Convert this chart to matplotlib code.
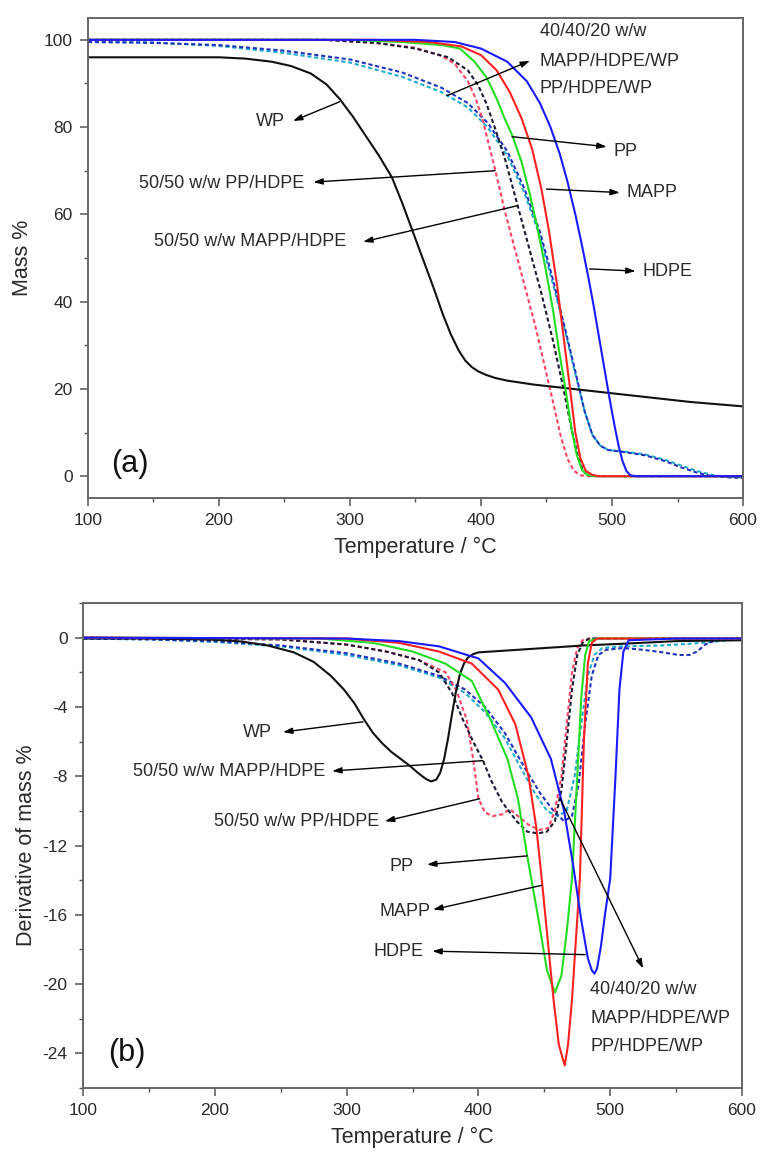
import matplotlib.pyplot as plt
from matplotlib.ticker import MultipleLocator

plt.rcParams['font.family'] = ['Liberation Sans', 'DejaVu Sans']
plt.rcParams['axes.unicode_minus'] = False

# ---------------- (a) mass loss curves ----------------
wp_tg_T = [100, 200, 220, 240, 255, 270, 282, 292, 302, 312, 322, 332, 340, 348, 356, 364, 371, 377, 383, 388, 393, 398, 404, 411, 420, 440, 470, 500, 530, 560, 600]
wp_tg = [96, 96, 95.7, 95, 94, 92.3, 89.8, 86.5, 82.5, 78, 73.5, 68.5, 62.5, 56, 49.5, 43, 37, 32.5, 28.8, 26.5, 25, 24, 23.2, 22.5, 21.9, 21, 20, 19, 18, 17, 16]

hdpe_tg_T = [100, 350, 380, 400, 420, 435, 445, 453, 460, 466, 472, 477, 482, 486, 490, 494, 498, 502, 505, 508, 511, 514, 518, 600]
hdpe_tg = [100, 100, 99.5, 98, 95, 90.5, 85.5, 80, 74, 67.5, 60, 53, 45.5, 39, 32, 25, 18, 11.5, 7, 3.5, 1.2, 0.2, 0, 0]

mapp_tg_T = [100, 320, 360, 385, 400, 412, 422, 431, 439, 446, 452, 458, 463, 468, 472, 476, 480, 485, 490, 600]
mapp_tg = [100, 100, 99.5, 98.5, 96.5, 93, 88, 82, 75, 66, 56, 44, 32, 20, 10, 4, 1.2, 0.3, 0, 0]

pp_tg_T = [100, 300, 340, 370, 384, 395, 404, 412, 418, 424, 431, 437, 443, 449, 455, 460, 465, 469, 473, 477, 481, 486, 600]
pp_tg = [100, 100, 99.5, 98.8, 98, 95, 91.5, 86.5, 82, 78, 72, 65, 57, 48, 38, 28, 19, 11, 5, 1.5, 0.3, 0, 0]

pphdpe_tg_T = [100, 280, 320, 350, 370, 380, 390, 396, 401, 406, 411, 418, 425, 433, 441, 448, 455, 461, 466, 471, 476, 482, 600]
pphdpe_tg = [100, 100, 99.3, 98.2, 96.3, 94.5, 90.5, 86.5, 82, 76, 70, 61, 53, 44, 35, 26, 17, 9, 4, 1.2, 0.2, 0, 0]

mappdpe_tg_T = [100, 280, 320, 350, 375, 390, 398, 404, 411, 419, 428, 437, 446, 455, 463, 469, 474, 478, 482, 486, 600]
mappdpe_tg = [100, 100, 99.3, 98, 96, 93, 89.5, 85.5, 79.5, 72, 62, 52, 42, 31, 20, 11, 4.5, 1.2, 0.2, 0, 0]

mhw_tg_T = [100, 150, 200, 250, 300, 340, 370, 390, 405, 420, 433, 445, 455, 464, 472, 479, 485, 491, 497, 510, 525, 540, 553, 565, 575, 590, 600]
mhw_tg = [99.5, 99.3, 98.8, 97.5, 95.5, 92.5, 89, 85.5, 81, 74.5, 66, 56, 45, 34, 24, 15, 9.5, 7, 6, 5.5, 4.8, 3.5, 2, 0.8, 0.1, -0.3, -0.4]

phw_tg_T = [100, 150, 200, 250, 300, 340, 370, 390, 405, 420, 433, 445, 455, 464, 472, 479, 485, 491, 497, 510, 525, 540, 555, 567, 578, 590, 600]
phw_tg = [99.7, 99.4, 98.6, 97, 94.8, 91.5, 88, 84.5, 80, 73.5, 65, 55, 44, 33.5, 23.5, 15, 9.5, 7, 6, 5.6, 5, 3.8, 2.2, 1, 0.2, -0.2, -0.3]

# ---------------- (b) derivative curves ----------------
wp_dtg_T = [100, 150, 200, 220, 240, 260, 275, 288, 298, 306, 313, 320, 327, 334, 341, 348, 354, 360, 364, 368, 371, 374, 377, 380, 383, 386, 389, 392, 396, 400, 420, 450, 480, 510, 550, 600]
wp_dtg = [-0.05, -0.05, -0.12, -0.22, -0.45, -0.85, -1.4, -2.2, -3.0, -3.8, -4.7, -5.5, -6.1, -6.6, -7.0, -7.4, -7.8, -8.15, -8.3, -8.2, -7.8, -7.0, -5.8, -4.4, -3.1, -2.1, -1.5, -1.15, -0.95, -0.85, -0.75, -0.6, -0.45, -0.35, -0.2, -0.15]

hdpe_dtg_T = [100, 300, 340, 370, 400, 420, 440, 455, 465, 472, 478, 483, 486, 488, 490, 493, 496, 500, 504, 507, 510, 514, 550, 600]
hdpe_dtg = [0, -0.05, -0.2, -0.5, -1.2, -2.6, -4.6, -7.0, -10.0, -13.2, -16.3, -18.5, -19.2, -19.4, -19.1, -17.8, -16.0, -13.9, -8.0, -3.0, -0.8, -0.15, -0.05, -0.05]

mapp_dtg_T = [100, 300, 340, 370, 395, 415, 428, 438, 444, 448, 452, 457, 461, 465.5, 468, 471, 477, 480, 483, 486, 490, 550, 600]
mapp_dtg = [0, -0.05, -0.3, -0.8, -1.5, -3.0, -5.0, -8.0, -11.0, -13.9, -17.0, -20.9, -23.5, -24.7, -23.5, -20.9, -13.9, -6.0, -1.5, -0.3, -0.05, -0.05, -0.05]

pp_dtg_T = [100, 280, 320, 350, 375, 395, 409, 422, 430, 437, 445, 452, 458, 463, 467, 471, 475, 478, 481, 484, 490, 550, 600]
pp_dtg = [0, -0.05, -0.3, -0.8, -1.5, -2.5, -4.7, -7.0, -9.3, -12.6, -16.0, -19.2, -20.5, -19.5, -17.0, -13.9, -8.0, -3.5, -1.0, -0.2, -0.05, -0.05, -0.05]

pphdpe_dtg_T = [100, 250, 300, 330, 355, 375, 383, 391, 396, 400, 405, 411, 418, 424, 430, 438, 446, 453, 458, 463, 467, 471, 475, 479, 485, 550, 600]
pphdpe_dtg = [0, -0.1, -0.4, -0.8, -1.3, -2.0, -3.0, -4.7, -7.0, -9.3, -10.1, -10.3, -10.2, -9.9, -10.3, -10.8, -11.1, -11.0, -10.0, -8.0, -5.0, -2.0, -0.6, -0.15, -0.05, -0.05, -0.05]

mappdpe_dtg_T = [100, 250, 300, 330, 355, 370, 380, 388, 396, 403.5, 410, 418, 429, 437, 445, 452, 458, 463, 467, 471, 475, 479, 484, 550, 600]
mappdpe_dtg = [0, -0.1, -0.4, -0.8, -1.3, -2.0, -3.2, -4.7, -6.0, -7.1, -8.3, -9.5, -10.6, -11.2, -11.3, -11.2, -10.6, -8.8, -6.0, -3.0, -1.0, -0.3, -0.05, -0.05, -0.05]

mhw_dtg_T = [100, 150, 200, 250, 300, 340, 370, 390, 405, 420, 435, 447, 457, 465, 471, 476, 481, 486, 491, 497, 510, 525, 540, 552, 560, 566, 572, 580, 600]
mhw_dtg = [-0.05, -0.1, -0.2, -0.45, -0.9, -1.5, -2.2, -3.0, -4.0, -5.5, -7.5, -9.0, -10.0, -10.6, -10.3, -8.5, -5.0, -2.2, -1.0, -0.7, -0.6, -0.7, -0.85, -1.0, -1.0, -0.8, -0.4, -0.15, -0.1]

phw_dtg_T = [100, 150, 200, 250, 300, 340, 370, 390, 405, 420, 432, 443, 452, 460, 467, 473, 478, 483, 488, 494, 510, 540, 570, 590, 600]
phw_dtg = [-0.05, -0.1, -0.25, -0.5, -1.0, -1.6, -2.3, -3.2, -4.3, -5.8, -7.5, -9.0, -10.0, -10.3, -10.0, -8.0, -5.0, -2.2, -1.0, -0.6, -0.5, -0.45, -0.3, -0.15, -0.1]

DOT = (0, (2, 1.3))
styles = {
    'wp': dict(color='#111111', ls='-'),
    'hdpe': dict(color='#1a1aff', ls='-'),
    'mapp': dict(color='#ff2020', ls='-'),
    'pp': dict(color='#22dd22', ls='-'),
    'pphdpe': dict(color='#ff4466', ls=DOT),
    'mappdpe': dict(color='#1a1a33', ls=DOT),
    'mhw': dict(color='#2233bb', ls=DOT),
    'phw': dict(color='#22aacc', ls=DOT),
}

fig = plt.figure(figsize=(7.63, 11.63), dpi=100)
ax1 = fig.add_axes([0.1153, 0.5718, 0.8585, 0.4127])
ax2 = fig.add_axes([0.1088, 0.0645, 0.8637, 0.4170])

tg = [('phw', phw_tg_T, phw_tg), ('mhw', mhw_tg_T, mhw_tg), ('pphdpe', pphdpe_tg_T, pphdpe_tg),
      ('mappdpe', mappdpe_tg_T, mappdpe_tg), ('wp', wp_tg_T, wp_tg), ('pp', pp_tg_T, pp_tg),
      ('mapp', mapp_tg_T, mapp_tg), ('hdpe', hdpe_tg_T, hdpe_tg)]
dtg = [('phw', phw_dtg_T, phw_dtg), ('mhw', mhw_dtg_T, mhw_dtg), ('pphdpe', pphdpe_dtg_T, pphdpe_dtg),
       ('mappdpe', mappdpe_dtg_T, mappdpe_dtg), ('wp', wp_dtg_T, wp_dtg), ('pp', pp_dtg_T, pp_dtg),
       ('mapp', mapp_dtg_T, mapp_dtg), ('hdpe', hdpe_dtg_T, hdpe_dtg)]

for key, t, v in tg:
    ax1.plot(t, v, lw=1.5, **styles[key])
for key, t, v in dtg:
    ax2.plot(t, v, lw=1.5, **styles[key])

TXT = '#2a2a2a'
for ax in (ax1, ax2):
    ax.set_xlim(100, 600)
    ax.xaxis.set_major_locator(MultipleLocator(100))
    ax.xaxis.set_minor_locator(MultipleLocator(50))
    ax.tick_params(which='both', direction='out', top=False, right=False, colors='#555555',
                   labelcolor=TXT, labelsize=12.5)
    ax.tick_params(which='major', length=6, width=1.1, pad=5)
    ax.tick_params(which='minor', length=3, width=1.0)
    for s in ax.spines.values():
        s.set_color('#666666')
        s.set_linewidth(1.4)
    ax.set_xlabel('Temperature / °C', fontsize=15.5, color=TXT, labelpad=6)

ax1.set_ylim(-5, 105)
ax1.yaxis.set_major_locator(MultipleLocator(20))
ax1.yaxis.set_minor_locator(MultipleLocator(10))
ax1.set_ylabel('Mass %', fontsize=15.5, color=TXT, labelpad=8)

ax2.set_ylim(-26, 2)
ax2.yaxis.set_major_locator(MultipleLocator(4))
ax2.yaxis.set_minor_locator(MultipleLocator(2))
ax2.set_ylabel('Derivative of mass %', fontsize=15.5, color=TXT, labelpad=4)

AP = dict(arrowstyle='-|>,head_length=0.55,head_width=0.18', color='black', lw=1.0,
          shrinkA=0, shrinkB=0)
FS = 13


def note(ax, label, xy_text, tail, head, ha='center'):
    ax.annotate('', xy=head, xytext=tail, arrowprops=AP)
    if label:
        ax.text(xy_text[0], xy_text[1], label, ha=ha, va='center', fontsize=FS, color=TXT)


# panel (a)
ax1.text(445, 101.8, '40/40/20 w/w', ha='left', va='center', fontsize=FS, color=TXT)
ax1.text(445, 95.0, 'MAPP/HDPE/WP', ha='left', va='center', fontsize=FS, color=TXT)
ax1.text(445, 88.8, 'PP/HDPE/WP', ha='left', va='center', fontsize=FS, color=TXT)
note(ax1, None, None, (374, 87.2), (437.4, 95.2))
note(ax1, 'PP', (501, 74.5), (423.7, 77.8), (496, 75.5), ha='left')
note(ax1, 'MAPP', (511, 65), (450, 65.8), (506, 65), ha='left')
note(ax1, 'HDPE', (523, 47), (483, 47.5), (518, 47), ha='left')
note(ax1, 'WP', (239, 81.4), (292, 85.8), (256.5, 81.4))
note(ax1, '50/50 w/w PP/HDPE', (202, 67), (410.7, 70), (272, 67.4))
note(ax1, '50/50 w/w MAPP/HDPE', (223.7, 53.7), (428, 62), (310, 53.7))
ax1.text(132, 2.8, '(a)', ha='center', va='center', fontsize=22, color='#111111')

# panel (b)
note(ax2, 'WP', (232, -5.45), (312.4, -4.86), (251.7, -5.45))
note(ax2, '50/50 w/w MAPP/HDPE', (283.6, -7.7), (403.5, -7.1), (289, -7.7), ha='right')
note(ax2, '50/50 w/w PP/HDPE', (325, -10.6), (401, -9.3), (329, -10.6), ha='right')
note(ax2, 'PP', (342, -13.2), (437, -12.6), (361, -13.1))
note(ax2, 'MAPP', (344, -15.8), (448, -14.3), (365.6, -15.7))
note(ax2, 'HDPE', (339, -18.1), (481, -18.3), (365, -18.1))
ax2.text(484.7, -20.3, '40/40/20 w/w', ha='left', va='center', fontsize=FS, color=TXT)
ax2.text(484.7, -22.0, 'MAPP/HDPE/WP', ha='left', va='center', fontsize=FS, color=TXT)
ax2.text(484.7, -23.6, 'PP/HDPE/WP', ha='left', va='center', fontsize=FS, color=TXT)
note(ax2, None, None, (462, -9.3), (525, -19.1))
ax2.text(133, -24, '(b)', ha='center', va='center', fontsize=22, color='#111111')

fig.savefig('out.png', dpi=100)
